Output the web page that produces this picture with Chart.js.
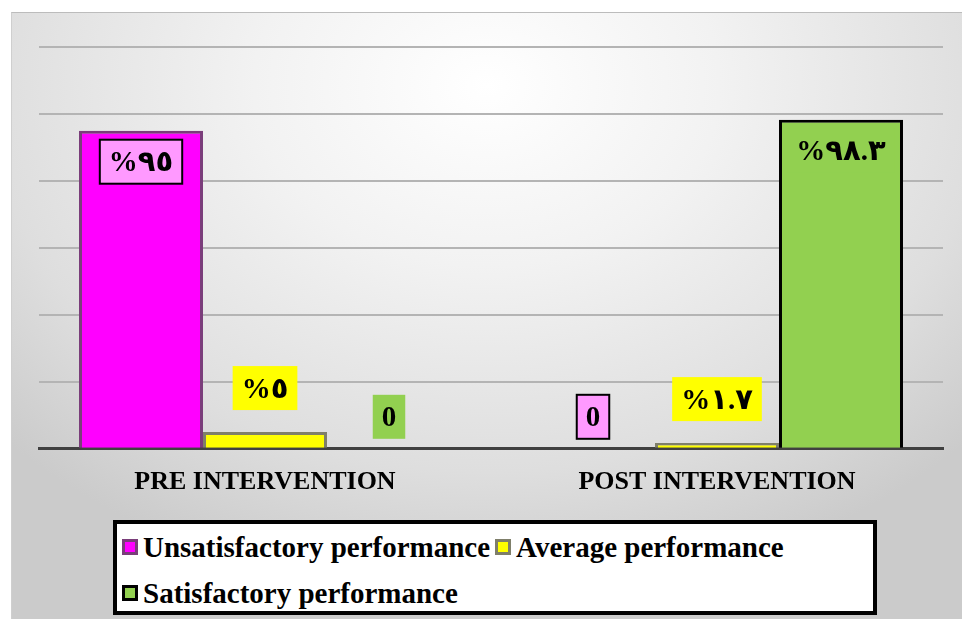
<!DOCTYPE html>
<html>
<head>
<meta charset="utf-8">
<script src="https://cdn.jsdelivr.net/npm/chart.js@4.4.1/dist/chart.umd.min.js"></script>
<style>
  html, body { margin: 0; padding: 0; width: 962px; height: 619px; overflow: hidden; background: #fff; }
  #panel {
    position: absolute; left: 11px; top: 12px; width: 951px; height: 607px;
    box-sizing: border-box; border-top: 1px solid #bcbcbc; border-left: 1px solid #cfcfcf;
    background: radial-gradient(ellipse 70% 85% at 50% 12%, #ffffff 0%, #f2f2f2 35%, #dedede 75%, #cbcbcb 100%);
  }
  #chart { position: absolute; left: 0; top: 0; }
  #legend {
    position: absolute; left: 101px; top: 507px; width: 764px; height: 95px;
    box-sizing: border-box; border: 4px solid #000; background: #fff;
    padding-left: 5px; font: bold 29px "Liberation Serif", serif; line-height: 46px; color: #000;
  }
  .item { display: inline-block; white-space: nowrap; margin-right: 5px; }
  .mk { display: inline-block; width: 10px; height: 10px; border: 3px solid; margin-right: 5px; vertical-align: 2px; }
</style>
</head>
<body>
<div id="panel">
  <canvas id="chart" width="951" height="503"></canvas>
  <div id="legend"></div>
</div>
<script>
// categories and series
const categories = ['PRE INTERVENTION', 'POST INTERVENTION'];
const seriesNames = ['Unsatisfactory performance', 'Average performance', 'Satisfactory performance'];
const unsatisfactory = [95, 0];
const average = [5, 1.7];
const satisfactory = [0, 98.3];
const yMax = 120;
const yStep = 20;

const fills = ['#ff00ff', '#ffff00', '#92d050'];
const borders = ['#7a3d7a', '#7f7f6a', '#000000'];
const labelFills = ['#ff99ff', '#ffff00', '#92d050'];
const labelStrokes = ['#000000', null, null];

// percent label with eastern arabic digits, plain 0 for zero
function fmt(v) {
  if (v === 0) return '0';
  return '%' + String(v).replace(/[0-9]/g, d => '٠١٢٣٤٥٦٧٨٩'[d]);
}

const valueLabels = {
  id: 'valueLabels',
  afterDatasetsDraw(chart) {
    const ctx = chart.ctx;
    ctx.save();
    ctx.font = 'bold 29px "Liberation Serif", "DejaVu Sans", serif';
    ctx.textAlign = 'center';
    ctx.textBaseline = 'middle';
    chart.data.datasets.forEach((ds, i) => {
      chart.getDatasetMeta(i).data.forEach((bar, j) => {
        const v = ds.data[j];
        const txt = fmt(v);
        const w = ctx.measureText(txt).width + 18;
        const h = 44;
        const cx = bar.x;
        const cy = v > 50 ? bar.y + 31 : bar.y - (i === 1 ? 44 : 32);
        ctx.fillStyle = labelFills[i];
        ctx.fillRect(cx - w / 2, cy - h / 2, w, h);
        if (labelStrokes[i]) {
          ctx.lineWidth = 2;
          ctx.strokeStyle = labelStrokes[i];
          ctx.strokeRect(cx - w / 2, cy - h / 2, w, h);
        }
        ctx.fillStyle = '#000';
        ctx.fillText(txt, cx, cy + 2);
      });
    });
    ctx.restore();
  }
};

const seriesData = [unsatisfactory, average, satisfactory];

const chart = new Chart(document.getElementById('chart'), {
  type: 'bar',
  data: {
    labels: categories,
    datasets: seriesData.map((d, i) => ({
      label: seriesNames[i],
      data: d,
      backgroundColor: fills[i],
      borderColor: borders[i],
      borderWidth: c => (c.raw === 0 ? 0 : 3),
      borderSkipped: 'bottom',
      categoryPercentage: 0.823,
      barPercentage: 1
    }))
  },
  options: {
    responsive: false,
    animation: false,
    layout: { padding: { top: 34, left: 27, right: 20, bottom: 8 } },
    scales: {
      x: {
        grid: { display: false },
        border: { color: '#404040', width: 3 },
        ticks: { color: '#000', padding: 10, font: { family: '"Liberation Serif", serif', size: 26, weight: 'bold' } }
      },
      y: {
        min: 0, max: yMax,
        ticks: { display: false, stepSize: yStep },
        grid: { color: '#b4b4b4', lineWidth: 2, drawTicks: false },
        border: { display: false }
      }
    },
    plugins: {
      legend: { display: false },
      tooltip: { enabled: false }
    }
  },
  plugins: [valueLabels]
});

// html legend built from the datasets
const legend = document.getElementById('legend');
chart.data.datasets.forEach(ds => {
  const item = document.createElement('span');
  item.className = 'item';
  const mk = document.createElement('span');
  mk.className = 'mk';
  mk.style.background = ds.backgroundColor;
  mk.style.borderColor = ds.borderColor;
  item.appendChild(mk);
  item.appendChild(document.createTextNode(ds.label));
  legend.appendChild(item);
});
</script>
</body>
</html>
